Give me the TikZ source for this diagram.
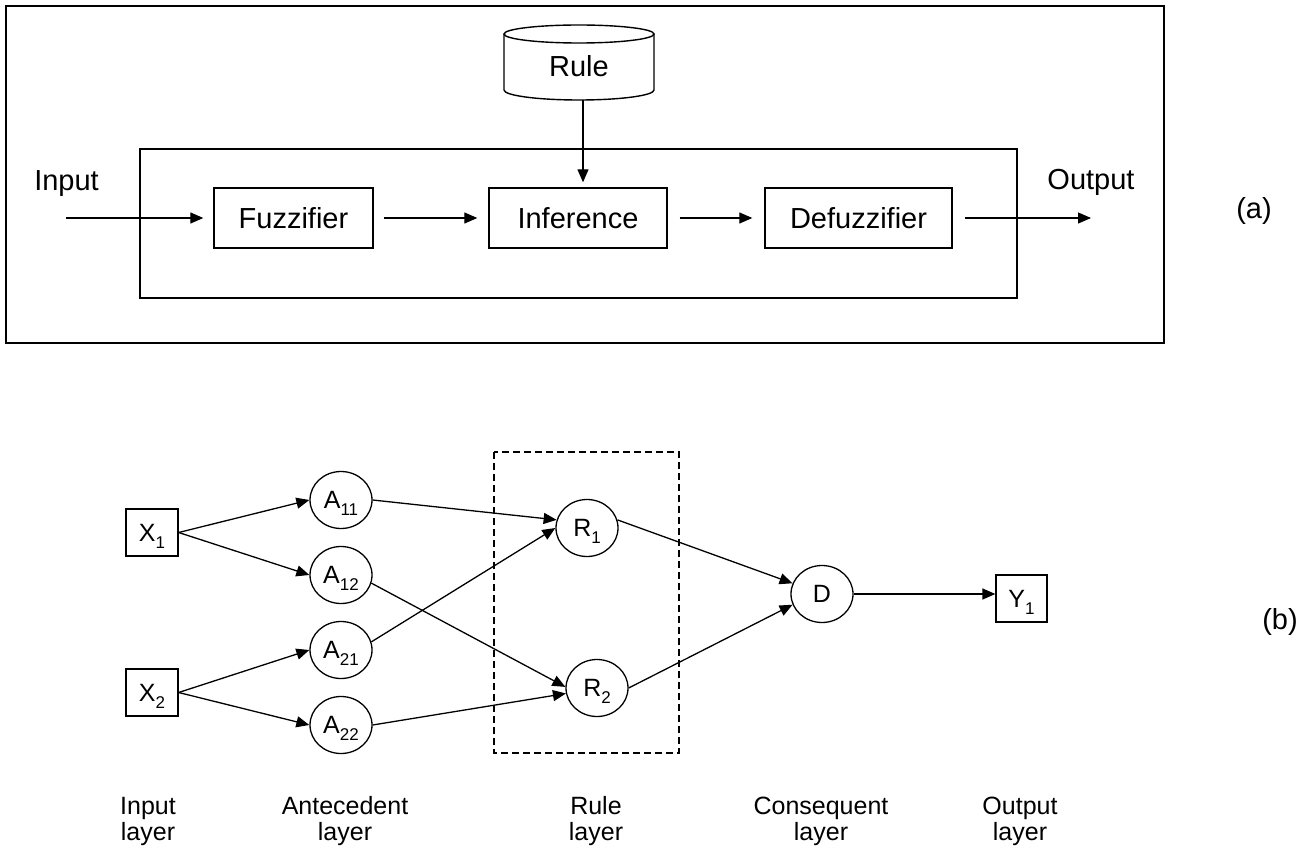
\documentclass[tikz,border=0pt]{standalone}
\usepackage{fontspec}
\setmainfont{Liberation Sans}
\usetikzlibrary{arrows.meta,shapes.geometric,calc}
\newcommand{\lsub}[1]{\raisebox{-7pt}[0pt][0pt]{\fontsize{17}{17}\selectfont #1}}
\begin{document}
\begin{tikzpicture}[x=1pt,y=-1pt,
  conn/.style={line width=1.3pt, -{Triangle[length=13pt,width=11pt]}},
  blockbox/.style={draw, line width=1.4pt, minimum height=60pt, font=\fontsize{29}{34}\selectfont, inner sep=0pt},
  frame/.style={draw, line width=1.4pt},
  neuron/.style={ellipse, draw, line width=1.3pt, minimum width=62pt, minimum height=57pt, inner sep=0pt, font=\fontsize{25}{30}\selectfont},
  inbox/.style={draw, line width=1.3pt, minimum width=52pt, minimum height=47pt, inner sep=0pt, font=\fontsize{25}{30}\selectfont},
  lbl/.style={font=\fontsize{25}{26}\selectfont, align=center, inner sep=0pt},
  big/.style={font=\fontsize{29}{34}\selectfont, inner sep=0pt}
]
\fill[white] (0,0) rectangle (1311,850);
\useasboundingbox (0,0) rectangle (1311,850);

% ---------- (a) ----------
\draw[frame] (6,6) rectangle (1164,343);
\draw[frame] (140,149) rectangle (1017,298);

\draw[frame] (579,34) ellipse [x radius=75pt, y radius=9pt];
\draw[frame] (504,34) -- (504,90) arc[start angle=180, end angle=360, x radius=75pt, y radius=10pt] -- (654,34);
\node[big] (rule) at (579,66) {Rule};
\coordinate (rulebot) at (583,100);

\node[blockbox, minimum width=159pt] (fuzz) at (293.5,218) {Fuzzifier};
\node[blockbox, minimum width=178pt] (inf) at (578,218) {Inference};
\node[blockbox, minimum width=187pt] (defz) at (858.5,218) {Defuzzifier};

\node[big] (intext) at (66.5,184) {Input};
\node[big] (outtext) at (1091,182) {Output};
\node[big] (alabel) at (1254,211) {(a)};

\coordinate (instart) at (66,218);
\coordinate (outend) at (1091,218);
\draw[conn, shorten >=10pt] (instart) -- (fuzz.west);
\draw[conn, shorten <=10pt, shorten >=11pt] (fuzz.east) -- (inf.west);
\draw[conn, shorten <=12pt, shorten >=12pt] (inf.east) -- (defz.west);
\draw[conn, shorten <=12pt] (defz.east) -- (outend);
\draw[conn, shorten >=5pt] (rulebot) -- (rulebot |- inf.north);

% ---------- (b) ----------
\draw[line width=1.3pt, dash pattern=on 7pt off 4pt] (494,452) rectangle (679,753);

\node[inbox] (x1) at (152,532.5) {X\lsub{1}};
\node[inbox] (x2) at (152,692.5) {X\lsub{2}};
\node[neuron] (a11) at (341,500) {A\lsub{11}};
\node[neuron] (a12) at (341,575) {A\lsub{12}};
\node[neuron] (a21) at (341,650) {A\lsub{21}};
\node[neuron] (a22) at (341,725) {A\lsub{22}};
\node[neuron] (r1) at (587,528) {R\lsub{1}};
\node[neuron] (r2) at (597,688) {R\lsub{2}};
\node[neuron] (d) at (822,594) {D};
\node[inbox, minimum width=51pt] (y1) at (1021.5,598.5) {Y\lsub{1}};

\draw[conn] (x1.east) -- (a11.west);
\draw[conn] (x1.east) -- (a12.west);
\draw[conn] (x2.east) -- (a21.west);
\draw[conn] (x2.east) -- (a22.west);
\draw[conn] (a11.east) -- (r1.165);
\draw[conn] (a21.15) -- (r1.180);
\draw[conn] (a12.-15) -- (r2.178);
\draw[conn] (a22.east) -- (r2.190);
\draw[conn] (r1.15) -- (d.160);
\draw[conn] (r2.east) -- (d.200);
\draw[conn] (d.east) -- (d.east -| y1.west);

\node[big] (blabel) at (1280,622) {(b)};

\node[lbl] (l1) at (148,821) {Input\\layer};
\node[lbl] (l2) at (345,821) {Antecedent\\layer};
\node[lbl] (l3) at (596,821) {Rule\\layer};
\node[lbl] (l4) at (821,821) {Consequent\\layer};
\node[lbl] (l5) at (1020,821) {Output\\layer};
\end{tikzpicture}
\end{document}
